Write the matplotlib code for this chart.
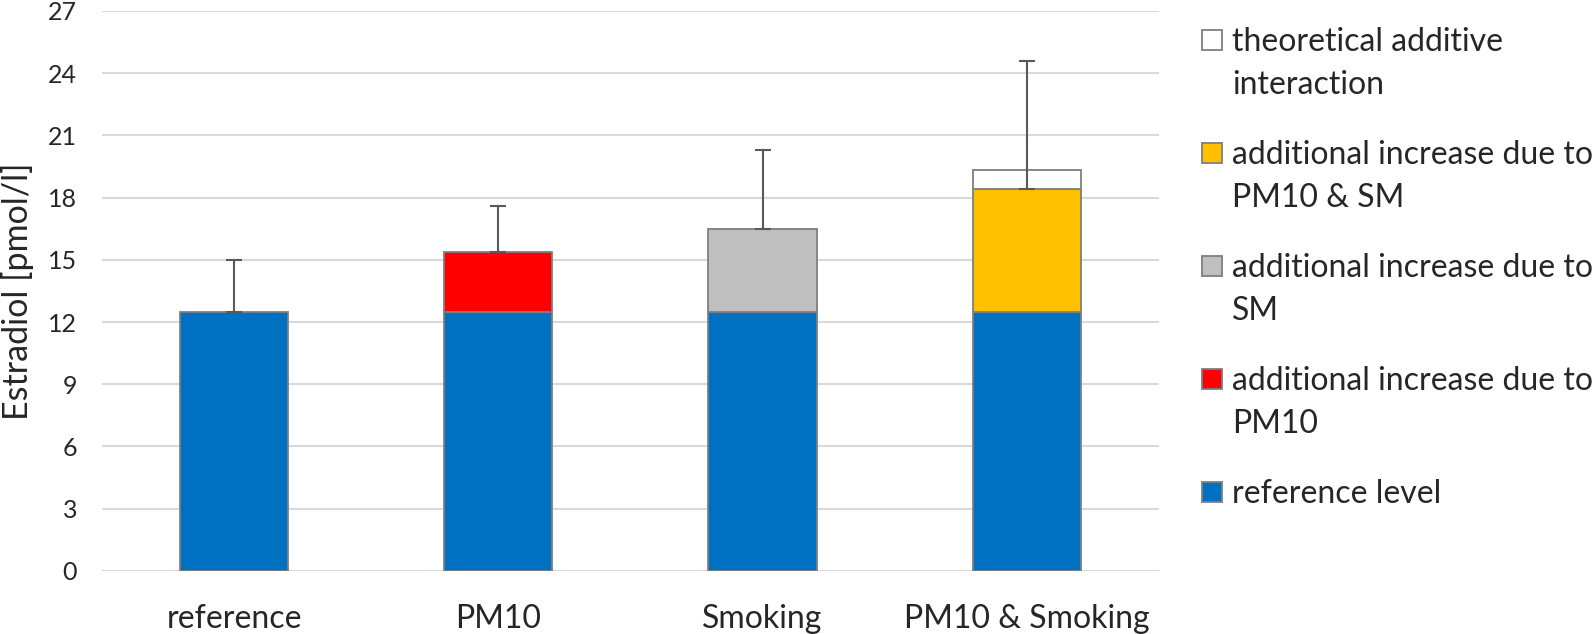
import numpy as np
import matplotlib
matplotlib.use("Agg")
import matplotlib.pyplot as plt
from matplotlib.patches import Rectangle

plt.rcParams['font.family'] = ['Lato', 'DejaVu Sans']

categories = ["reference", "PM10", "Smoking", "PM10 & Smoking"]
reference_level = [12.5, 12.5, 12.5, 12.5]
inc_pm10 = [0, 2.85, 0, 0]
inc_sm = [0, 0, 4.0, 0]
inc_both = [0, 0, 0, 5.9]
theoretical = [0, 0, 0, 0.95]
observed = [12.5, 15.35, 16.5, 18.4]
err_upper = [2.5, 2.25, 3.8, 6.2]
yticks = list(range(0, 28, 3))

series = [("reference level", reference_level, "#0070C0"),
          ("additional increase due to\nPM10", inc_pm10, "#FF0000"),
          ("additional increase due to\nSM", inc_sm, "#BFBFBF"),
          ("additional increase due to\nPM10 & SM", inc_both, "#FFC000"),
          ("theoretical additive\ninteraction", theoretical, "#FFFFFF")]

TXT = "#262626"; EDGE = "#7F7F7F"
fig = plt.figure(figsize=(15.94, 6.34), dpi=100)
ax = fig.add_axes([0.064, 0.0994, 0.663, 0.8836])
x = np.arange(len(categories)); w = 0.41
bottom = np.zeros(len(categories))
for lab, vals, col in series:
    v = np.array(vals, float); m = v > 0
    ax.bar(x[m], v[m], w, bottom=bottom[m], color=col, edgecolor=EDGE, lw=1.3, zorder=2)
    bottom += v
ax.errorbar(x, observed, yerr=[np.zeros(len(x)), err_upper], fmt="none", ecolor="#595959",
            elinewidth=1.5, capsize=5.5, capthick=1.5, zorder=3)

ax.set_xlim(-0.5, 3.5); ax.set_ylim(0, 27)
ax.set_yticks(yticks); ax.set_xticks(x, categories)
ax.grid(axis="y", color="#D9D9D9", lw=1.5, zorder=0); ax.set_axisbelow(True)
for s in ax.spines.values(): s.set_visible(False)
ax.tick_params(length=0, labelsize=18, colors=TXT, pad=18)
ax.tick_params(axis="x", labelsize=23, colors=TXT, pad=24)
ax.set_ylabel("Estradiol [pmol/l]", fontsize=24.5, color=TXT, labelpad=10)

# legend, drawn top to bottom in reverse stacking order
y0 = 1 - 40 / 634; step = 113 / 634
for i, (lab, vals, col) in enumerate(series[::-1]):
    yc = y0 - i * step
    fig.patches.append(Rectangle((1202 / 1594, yc - 10 / 634), 20 / 1594, 20 / 634,
                                 transform=fig.transFigure, facecolor=col, edgecolor=EDGE, lw=1.3))
    fig.text(1232 / 1594, yc + 13 / 634, lab, fontsize=23, color=TXT, va="top", ha="left", linespacing=1.55)

fig.savefig("out.png", dpi=100)
